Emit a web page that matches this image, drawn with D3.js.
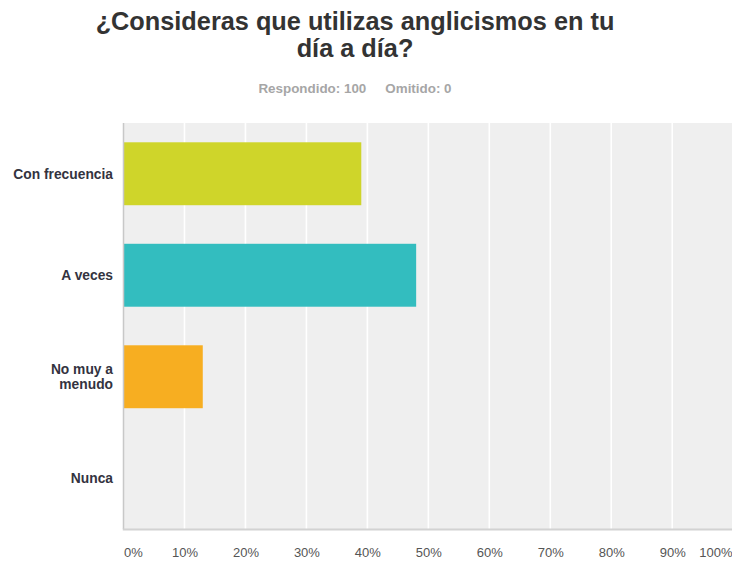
<!DOCTYPE html>
<html>
<head>
<meta charset="utf-8">
<script src="https://cdn.jsdelivr.net/npm/d3@7"></script>
<style>
  html, body { margin: 0; padding: 0; background: #fff; }
  svg { display: block; font-family: 'Liberation Sans', Arial, sans-serif; }
</style>
</head>
<body>
<svg id="chart" width="732" height="563"></svg>
<script>
const titleLines = ['¿Consideras que utilizas anglicismos en tu', 'día a día?']
const summary = ['Respondido: 100', 'Omitido: 0']
const categories = [['Con frecuencia'], ['A veces'], ['No muy a', 'menudo'], ['Nunca']]
const values = [39, 48, 13, 0]
const colors = ['#cfd52a', '#33bdbf', '#f7ae21', '#9e9e9e']
const ticks = [0, 10, 20, 30, 40, 50, 60, 70, 80, 90, 100]

const W = 732, H = 563
const margin = { top: 123, right: -1.2, bottom: 34, left: 123.5 }
const svg = d3.select('#chart')

const x = d3.scaleLinear().domain([0, 100]).range([margin.left, W - margin.right])
const y = d3.scaleBand().domain(d3.range(categories.length))
  .range([margin.top, H - margin.bottom]).paddingInner(0.38).paddingOuter(0.19)

// title
svg.append('g').selectAll('text').data(titleLines).enter().append('text')
  .attr('x', 355).attr('y', (_, i) => 30 + i * 27)
  .attr('text-anchor', 'middle')
  .style('font-size', '25.3px').style('font-weight', 'bold').style('fill', '#333')
  .text(d => d)

const sub = svg.append('text').attr('x', 355).attr('y', 93).attr('text-anchor', 'middle')
  .style('font-size', '13.4px').style('font-weight', 'bold').style('fill', '#a6a6a6')
sub.selectAll('tspan').data(summary).enter().append('tspan')
  .attr('dx', (_, i) => i ? 19 : 0)
  .text(d => d)

// plot background
svg.append('rect')
  .attr('x', margin.left).attr('y', margin.top)
  .attr('width', W - margin.left).attr('height', H - margin.bottom - margin.top)
  .style('fill', '#efefef')

// grid
svg.append('g').selectAll('line').data(ticks.slice(1)).enter().append('line')
  .attr('x1', x).attr('x2', x)
  .attr('y1', margin.top).attr('y2', H - margin.bottom)
  .style('stroke', '#fff').style('stroke-width', 1.6)

// bars
svg.append('g').selectAll('rect').data(values).enter().append('rect')
  .attr('x', x(0))
  .attr('y', (_, i) => y(i))
  .attr('width', d => x(d) - x(0))
  .attr('height', y.bandwidth())
  .style('fill', (_, i) => colors[i])

// axis lines
svg.append('line')
  .attr('x1', margin.left).attr('x2', margin.left)
  .attr('y1', margin.top).attr('y2', H - margin.bottom)
  .style('stroke', '#c8c8c8').style('stroke-width', 1.5)
svg.append('line')
  .attr('x1', margin.left - 0.75).attr('x2', W)
  .attr('y1', H - margin.bottom + 0.5).attr('y2', H - margin.bottom + 0.5)
  .style('stroke', '#d2d2d2').style('stroke-width', 2)

// category labels
const catG = svg.append('g').selectAll('text').data(categories).enter().append('text')
  .attr('x', 113).attr('text-anchor', 'end')
  .attr('y', (d, i) => y(i) + y.bandwidth() / 2 - (d.length - 1) * 7.5)
  .style('font-size', '13.8px').style('font-weight', 'bold').style('fill', '#333340')
catG.selectAll('tspan').data(d => d).enter().append('tspan')
  .attr('x', 113).attr('dy', (_, i) => i ? 15 : 5)
  .text(d => d)

// x axis ticks
const xAxis = d3.axisBottom(x).tickValues(ticks).tickSize(0).tickPadding(0).tickFormat(d => d + '%')
const gx = svg.append('g').attr('transform', `translate(0, ${H - margin.bottom + 24})`).call(xAxis)
gx.select('.domain').remove()
gx.selectAll('text')
  .style('font-family', "'Liberation Sans', Arial, sans-serif")
  .style('font-size', '13px').style('fill', '#555')
  .attr('dy', '0.32em').attr('y', 0)
  .attr('text-anchor', d => d === 0 ? 'start' : d === 100 ? 'end' : 'middle')
  .attr('dx', d => d === 100 ? (W - x(d)) : 0)
</script>
</body>
</html>
